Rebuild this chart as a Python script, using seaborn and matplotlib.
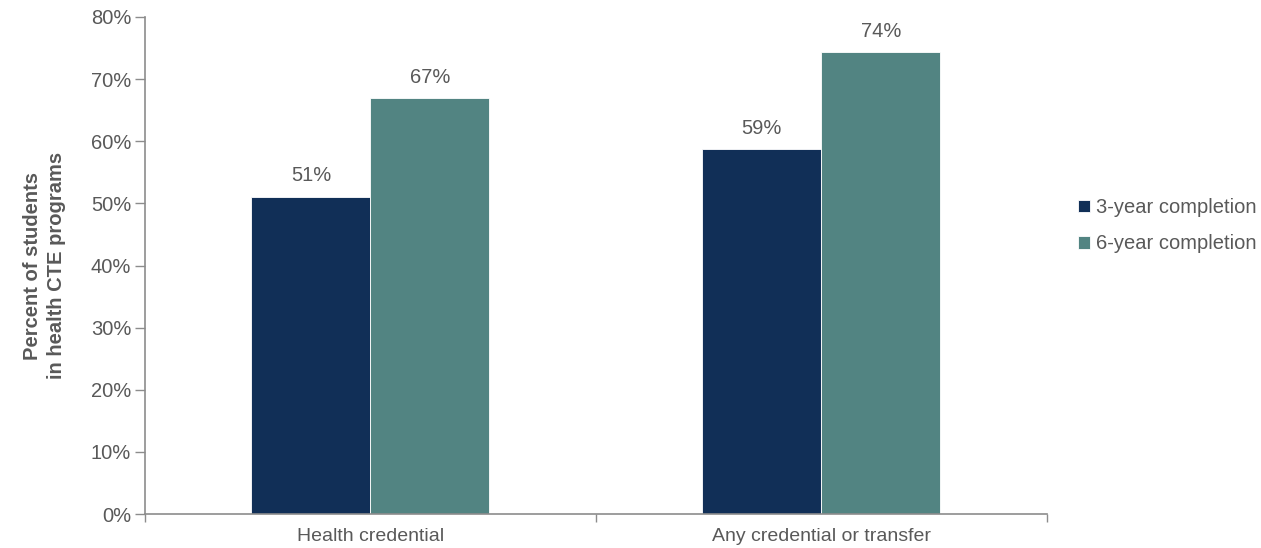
import matplotlib
matplotlib.use("Agg")
import matplotlib.pyplot as plt
import matplotlib.ticker as mticker
import seaborn as sns
import pandas as pd

categories = ["Health credential", "Any credential or transfer"]
series = ["3-year completion", "6-year completion"]
three_year = [51.1, 58.8]
six_year = [67.0, 74.4]
labels_three = ["51%", "59%"]
labels_six = ["67%", "74%"]
colors = ["#112f57", "#528482"]

df = pd.DataFrame({
    "category": categories * 2,
    "series": [series[0]] * 2 + [series[1]] * 2,
    "value": three_year + six_year,
})

sns.set_theme(style="white")
plt.rcParams["font.family"] = ["Liberation Sans", "DejaVu Sans"]
text_color = "#595959"
spine_color = "#8c8c8c"
fs = 14.5

fig = plt.figure(figsize=(12.61, 5.48), dpi=100)
ax = fig.add_axes([0.115, 0.062, 0.715, 0.907])

sns.barplot(data=df, x="category", y="value", hue="series", order=categories,
            hue_order=series, palette=colors, width=0.528, ax=ax,
            saturation=1, edgecolor="white", linewidth=0.6)

for cont, labs in zip(ax.containers, [labels_three, labels_six]):
    ax.bar_label(cont, labels=labs, padding=8, fontsize=fs, color=text_color)

ax.set_ylim(0, 80)
ax.set_xlim(-0.5, 1.5)
ax.yaxis.set_major_locator(mticker.MultipleLocator(10))
ax.yaxis.set_major_formatter(mticker.FuncFormatter(lambda v, p: f"{v:.0f}%"))
ax.tick_params(axis="y", which="major", length=7, width=1, color=spine_color,
               direction="out", labelsize=fs, labelcolor=text_color, left=True, pad=3)
ax.set_xticks([0, 1])
ax.set_xticklabels(categories)
ax.set_xticks([-0.5, 0.5, 1.5], minor=True)
ax.tick_params(axis="x", which="major", length=0, labelsize=14, labelcolor=text_color, pad=10)
ax.tick_params(axis="x", which="minor", length=6, width=1, color=spine_color,
               direction="out", bottom=True)

for side in ["top", "right"]:
    ax.spines[side].set_visible(False)
for side in ["left", "bottom"]:
    ax.spines[side].set_color(spine_color)
    ax.spines[side].set_linewidth(1.2)

ax.set_xlabel("")
ax.set_ylabel("Percent of students\nin health CTE programs", fontsize=fs,
              fontweight="bold", color=text_color, labelpad=18, linespacing=1.3)

leg = ax.legend(loc="center left", bbox_to_anchor=(1.015, 0.58), frameon=False,
                fontsize=fs, handlelength=0.6, handleheight=0.6, handletextpad=0.3,
                labelspacing=0.85, labelcolor=text_color)

fig.savefig("out.png", dpi=100)
